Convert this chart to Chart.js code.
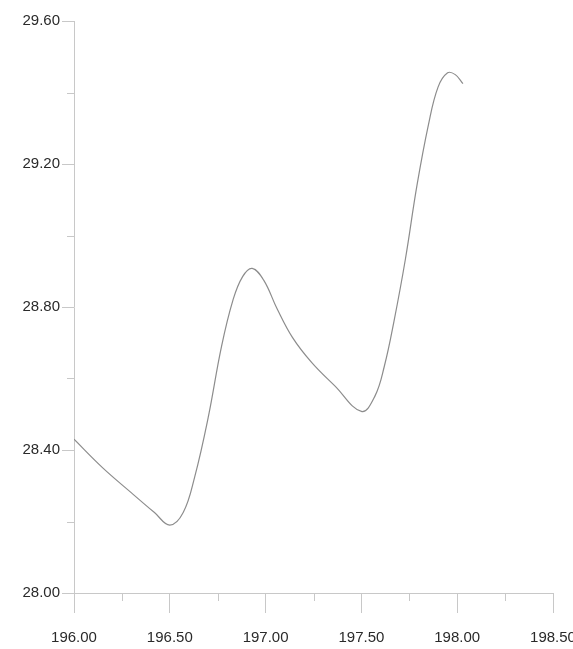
<!DOCTYPE html>
<html>
<head>
<meta charset="utf-8">
<script src="https://cdn.jsdelivr.net/npm/chart.js@4/dist/chart.umd.min.js"></script>
<style>
  html, body { margin: 0; padding: 0; background: #fff; }
  #wrap { width: 573px; height: 649px; }
</style>
</head>
<body>
<div id="wrap"><canvas id="canvas-1"></canvas></div>
<script>
'use strict';

var xValues = [196.00, 196.15, 196.30, 196.42, 196.50, 196.57, 196.63, 196.70, 196.77, 196.83, 196.88, 196.93, 196.99, 197.06, 197.14, 197.24, 197.36, 197.50, 197.57, 197.62, 197.67, 197.73, 197.79, 197.85, 197.90, 197.95, 197.99, 198.03];
var yValues = [28.43, 28.35, 28.28, 28.225, 28.19, 28.225, 28.325, 28.49, 28.69, 28.82, 28.885, 28.908, 28.875, 28.795, 28.715, 28.645, 28.58, 28.508, 28.55, 28.635, 28.76, 28.935, 29.14, 29.31, 29.415, 29.455, 29.45, 29.425];
var xTicks = [196.0, 196.5, 197.0, 197.5, 198.0, 198.5];
var xMinorTicks = [196.25, 196.75, 197.25, 197.75, 198.25];
var yTicks = [28.0, 28.4, 28.8, 29.2, 29.6];
var yMinorTicks = [28.2, 28.6, 29.0, 29.4];

var axisColor = '#c8c8c8';
var labelFont = { family: 'Liberation Sans, Arial, sans-serif', size: 15 };

var points = xValues.map(function(x, i) {
  return { x: x, y: yValues[i] };
});

// short ticks between the labelled ones
var minorTicks = {
  id: 'minorTicks',
  afterDraw: function(chart) {
    var ctx = chart.ctx;
    var xs = chart.scales.x;
    var ys = chart.scales.y;
    var area = chart.chartArea;
    ctx.save();
    ctx.strokeStyle = axisColor;
    ctx.lineWidth = 1;
    ctx.beginPath();
    xMinorTicks.forEach(function(v) {
      var px = Math.round(xs.getPixelForValue(v)) + 0.5;
      ctx.moveTo(px, area.bottom);
      ctx.lineTo(px, area.bottom + 8);
    });
    yMinorTicks.forEach(function(v) {
      var py = Math.round(ys.getPixelForValue(v)) + 0.5;
      ctx.moveTo(area.left, py);
      ctx.lineTo(area.left - 7, py);
    });
    ctx.stroke();
    ctx.restore();
  }
};

var ctx = document.getElementById('canvas-1');
var chart = new Chart(ctx, {
  type: 'scatter',
  data: {
    datasets: [{
      data: points,
      showLine: true,
      borderColor: '#8c8c8c',
      borderWidth: 1.2,
      pointRadius: 0,
      tension: 0.4,
      fill: false
    }]
  },
  options: {
    responsive: true,
    maintainAspectRatio: false,
    animation: false,
    layout: { padding: { top: 21, right: 20, left: 0, bottom: 0 } },
    plugins: {
      legend: { display: false },
      tooltip: { enabled: false }
    },
    scales: {
      x: {
        type: 'linear',
        min: 196.0,
        max: 198.5,
        afterBuildTicks: function(scale) {
          scale.ticks = xTicks.map(function(v) { return { value: v }; });
        },
        afterFit: function(scale) {
          scale.height = 56;
          scale.paddingLeft = 0;
          scale.paddingRight = 0;
        },
        border: { color: axisColor },
        grid: { drawOnChartArea: false, color: axisColor, tickLength: 20 },
        ticks: {
          color: '#2a2a2a',
          font: labelFont,
          padding: 16,
          maxRotation: 0,
          autoSkip: false,
          callback: function(v) { return Number(v).toFixed(2); }
        }
      },
      y: {
        min: 28.0,
        max: 29.6,
        afterBuildTicks: function(scale) {
          scale.ticks = yTicks.map(function(v) { return { value: v }; });
        },
        afterFit: function(scale) {
          scale.width = 74;
        },
        border: { color: axisColor },
        grid: { drawOnChartArea: false, color: axisColor, tickLength: 12 },
        ticks: {
          color: '#2a2a2a',
          font: labelFont,
          padding: 2,
          autoSkip: false,
          callback: function(v) { return Number(v).toFixed(2); }
        }
      }
    }
  },
  plugins: [minorTicks]
});
</script>
</body>
</html>
